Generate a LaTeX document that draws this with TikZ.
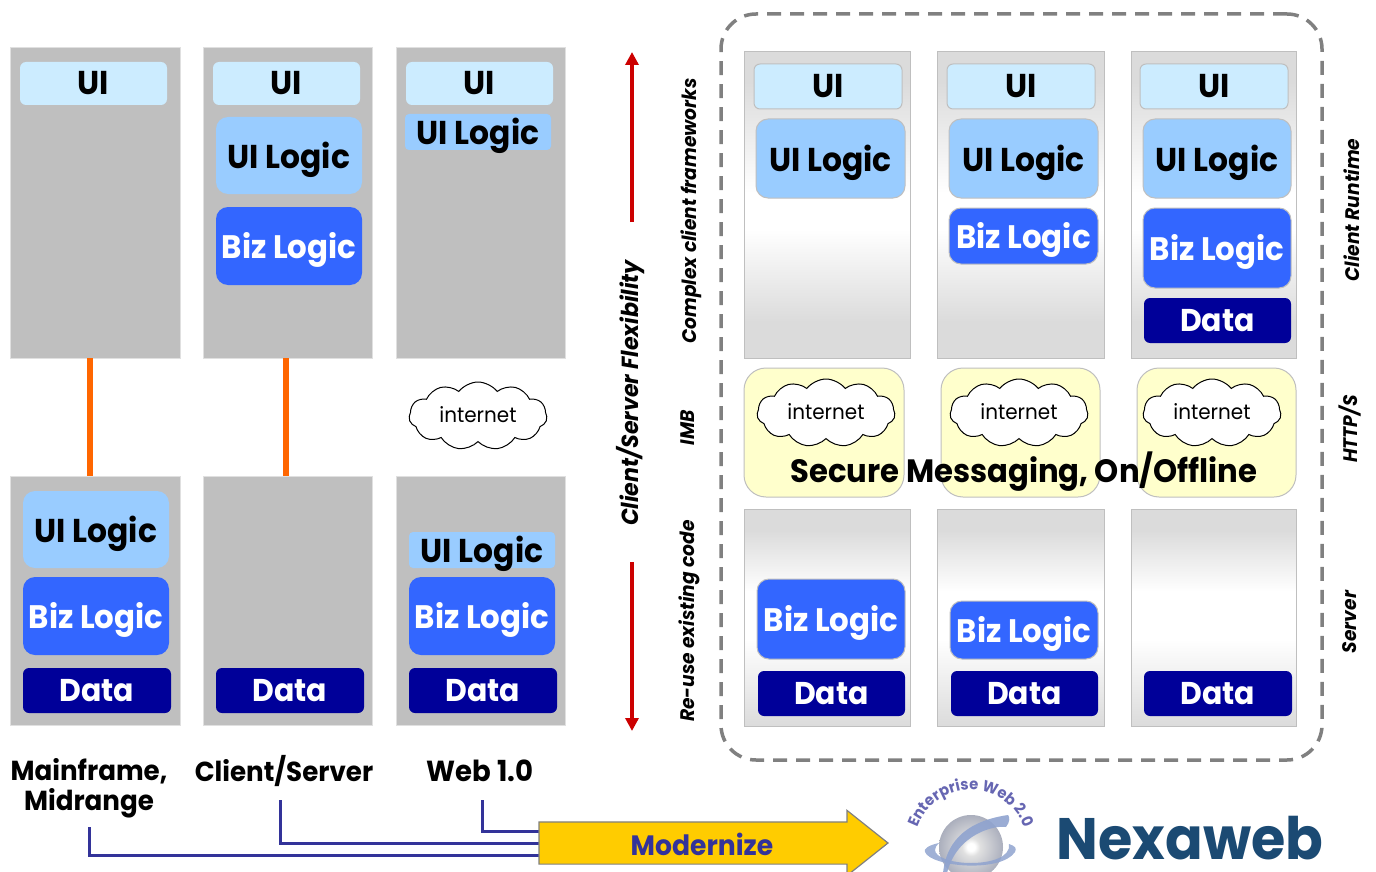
\documentclass[tikz,border=0pt]{standalone}
\usepackage{fontspec}
\setmainfont{Poppins}[FakeStretch=0.95]
\usetikzlibrary{shapes.symbols,shapes.arrows,decorations.text,arrows.meta}
\definecolor{cUI}{HTML}{CCECFF}
\definecolor{cLog}{HTML}{99CCFF}
\definecolor{cBiz}{HTML}{3366FF}
\definecolor{cData}{HTML}{000099}
\definecolor{cPan}{HTML}{BFBFBF}
\definecolor{cYel}{HTML}{FFFFCC}
\definecolor{cInd}{HTML}{333399}
\definecolor{cNex}{HTML}{1B4A73}
\definecolor{cRing}{HTML}{8FA3CF}
\definecolor{cGlobe}{HTML}{ABAFBD}
\pgfdeclareverticalshading{panTop}{100bp}{color(0bp)=(white!86!black); color(31bp)=(white!86!black); color(46bp)=(white); color(52bp)=(white); color(70bp)=(white!86!black); color(100bp)=(white!86!black)}
\pgfdeclareverticalshading{panBot}{100bp}{color(0bp)=(white!86!black); color(25bp)=(white!86!black); color(45bp)=(white); color(56bp)=(white); color(70bp)=(white!86!black); color(100bp)=(white!86!black)}
\pgfdeclareradialshading{globeSh}{\pgfpoint{0bp}{0bp}}{color(0bp)=(white); color(3bp)=(white); color(7bp)=(white!88!black); color(25bp)=(cGlobe); color(50bp)=(cGlobe)}
\tikzset{
 bx/.style={inner sep=0pt,outer sep=0pt,align=center,text depth=1pt},
 ptxt/.style={font=\fontsize{33}{33}\selectfont\bfseries},
 uibox/.style={bx,ptxt,fill=cUI,rounded corners=6pt,text=black},
 logbox/.style={bx,ptxt,fill=cLog,rounded corners=12pt,text=black},
 logsq/.style={bx,ptxt,fill=cLog,rounded corners=4pt,text=black},
 bizbox/.style={bx,font=\fontsize{32.5}{33}\selectfont\bfseries,fill=cBiz,rounded corners=12pt,text=white},
 databox/.style={bx,font=\fontsize{31.5}{33}\selectfont\bfseries,fill=cData,rounded corners=6pt,text=white},
 edged/.style={draw=cPan,line width=1pt},
 panel/.style={bx,fill=cPan,draw=white!88!black,line width=.6pt},
 pantop/.style={bx,shading=panTop,draw=cPan,line width=1pt},
 panbot/.style={bx,shading=panBot,draw=cPan,line width=1pt},
 yel/.style={bx,fill=cYel,draw=cPan,line width=1pt,rounded corners=22pt},
 inet/.style={cloud,cloud puffs=11,cloud puff arc=105,aspect=2.1,draw=black,fill=white,line width=1pt,inner sep=0pt,text depth=3pt,font=\fontsize{21}{21}\selectfont},
 orangel/.style={draw={rgb,255:red,255;green,102;blue,0},line width=6pt},
 redarr/.style={draw={rgb,255:red,204;green,0;blue,0},line width=3.5pt,-{Triangle[width=13pt,length=13pt]}},
 bluel/.style={draw=cInd,line width=3pt},
 side/.style={rotate=90,inner sep=0pt,font=\fontsize{19.6}{20}\selectfont\bfseries\itshape},
 era/.style={inner sep=0pt,font=\fontsize{27.5}{28}\selectfont\bfseries},
}
% \bxn[style]{name}{x0}{y0}{x1}{y1}{text}
\newcommand{\bxn}[7][]{\node[#1,minimum width={(#5-#3)*1pt},minimum height={(#6-#4)*1pt}] (#2) at ({(#3+#5)/2},{(#4+#6)/2}) {#7};}
\begin{document}
\begin{tikzpicture}[x=1pt,y=-1pt]
\useasboundingbox (0,0) rectangle (1376,872);
% left columns
\bxn[panel]{lt1}{10}{47}{180}{358}{}
\bxn[panel]{lt2}{203}{47}{372}{358}{}
\bxn[panel]{lt3}{396}{47}{565}{358}{}
\bxn[panel]{lb1}{10}{476}{180}{725}{}
\bxn[panel]{lb2}{203}{476}{372}{725}{}
\bxn[panel]{lb3}{396}{476}{565}{725}{}
\draw[orangel] ([xshift=-5pt]lt1.south) -- ([xshift=-5pt]lb1.north);
\draw[orangel] ([xshift=-1.5pt]lt2.south) -- ([xshift=-1.5pt]lb2.north);
\bxn[uibox]{a1}{20}{62}{167}{105}{UI}
\bxn[uibox]{a2}{213}{62}{360}{105}{UI}
\bxn[uibox]{a3}{406}{62}{553}{105}{UI}
\bxn[logbox]{b2}{216}{117}{362}{194}{UI Logic}
\bxn[bizbox]{c2}{216}{207}{362}{285}{Biz Logic}
\bxn[logsq]{b3}{405}{114}{551}{150}{UI Logic}
\node[inet,minimum width=138pt,minimum height=68pt] (cl0) at (478,416) {internet};
\bxn[logbox]{d1}{23}{491}{169}{568}{UI Logic}
\bxn[bizbox]{e1}{23}{577}{169}{655}{Biz Logic}
\bxn[databox]{f1}{23}{668}{171}{713}{Data}
\bxn[databox]{f2}{216}{668}{364}{713}{Data}
\bxn[logsq]{d3}{409}{532}{555}{568}{UI Logic}
\bxn[bizbox]{e3}{409}{577}{555}{655}{Biz Logic}
\bxn[databox]{f3}{409}{668}{557}{713}{Data}
% labels and feeders
\node[era] (m1) at (89,771) {Mainframe,};
\node[era] (m2) at (89,803) {Midrange};
\node[era] (m3) at (284,771) {Client/Server};
\node[era,font=\fontsize{29}{29}\selectfont\bfseries] (m4) at (480,771) {Web 1.0};
\coordinate (s1) at (89,827);\coordinate (s2) at (280,800);\coordinate (s3) at (482,800);
\coordinate (t1) at (540,855);\coordinate (t2) at (540,843);\coordinate (t3) at (540,831);
\draw[bluel] (s1) |- (t1);
\draw[bluel] (s2) |- (t2);
\draw[bluel] (s3) |- (t3);
\node[single arrow,anchor=tip,draw=gray,fill={rgb,255:red,255;green,204;blue,0},line width=1.2pt,inner xsep=0pt,inner ysep=20.5pt,minimum height=349pt,single arrow head extend=11.5pt,single arrow tip angle=77,single arrow head indent=0pt,outer sep=0pt] (mod) at (888,843) {};
\node[inner sep=0pt,text=cInd,font=\fontsize{28}{28}\selectfont\bfseries] (modt) at (702,844) {Modernize};
% flexibility
\node[side,font=\fontsize{23.3}{25}\selectfont\bfseries\itshape] (flex) at (631,393) {Client/Server Flexibility};
\coordinate (fa1) at (632,222);\coordinate (fa2) at (632,52);\coordinate (fa3) at (632,562);\coordinate (fa4) at (632,731);
\draw[redarr] (fa1) -- (fa2);
\draw[redarr] (fa3) -- (fa4);
\node[side] (s-a) at (691,211) {Complex client frameworks};
\node[side] (s-b) at (688,428) {IMB};
\node[side] (s-c) at (689,621) {Re-use existing code};
\node[side] (s-d) at (1352,210) {Client Runtime};
\node[side] (s-e) at (1350,429) {HTTP/S};
\node[side] (s-f) at (1350,622) {Server};
% dashed frame
\bxn[bx,draw=gray,line width=3.5pt,rounded corners=35pt,dash pattern=on 14pt off 9pt]{frame}{721}{14}{1322}{760}{}
% right columns
\bxn[pantop]{rt1}{744}{52}{910}{358}{}
\bxn[pantop]{rt2}{937}{52}{1104}{358}{}
\bxn[pantop]{rt3}{1131}{52}{1296}{358}{}
\bxn[panbot]{rb1}{744}{509}{910}{726}{}
\bxn[panbot]{rb2}{937}{509}{1104}{726}{}
\bxn[panbot]{rb3}{1131}{509}{1296}{726}{}
\bxn[uibox,edged]{g1}{754}{64}{902}{109}{UI}
\bxn[uibox,edged]{g2}{947}{64}{1095}{109}{UI}
\bxn[uibox,edged]{g3}{1140}{64}{1288}{109}{UI}
\bxn[logbox,edged]{h1}{756}{119}{905}{198}{UI Logic}
\bxn[logbox,edged]{h2}{949}{119}{1098}{198}{UI Logic}
\bxn[logbox,edged]{h3}{1143}{119}{1291}{198}{UI Logic}
\bxn[bizbox,edged]{i2}{949}{208}{1098}{264}{Biz Logic}
\bxn[bizbox,edged]{i3}{1143}{208}{1291}{288}{Biz Logic}
\bxn[databox]{j3}{1144}{298}{1291}{343}{Data}
\bxn[yel]{y1}{744}{368}{904}{497}{}
\bxn[yel]{y2}{941}{368}{1100}{497}{}
\bxn[yel]{y3}{1137}{368}{1296}{497}{}
\node[inet,minimum width=138pt,minimum height=68pt] (cl1) at (826,413) {internet};
\node[inet,minimum width=138pt,minimum height=68pt] (cl2) at (1019,413) {internet};
\node[inet,minimum width=138pt,minimum height=68pt] (cl3) at (1212,413) {internet};
\node[inner sep=0pt,font=\fontsize{32.3}{33}\selectfont\bfseries] (sec) at (1024,472) {Secure Messaging, On/Offline};
\bxn[bizbox,edged]{k1}{757}{579}{905}{659}{Biz Logic}
\bxn[bizbox,edged]{k2}{950}{601}{1098}{659}{Biz Logic}
\bxn[databox]{l1}{758}{671}{905}{716}{Data}
\bxn[databox]{l2}{951}{671}{1098}{716}{Data}
\bxn[databox]{l3}{1144}{671}{1292}{716}{Data}
% logo
\begin{scope}[shift={(971,847)},x=1pt,y=1pt]
 \shade[shading=globeSh] (0,0) circle (32pt);
 \fill[cRing,fill opacity=.85] (-32,4) .. controls (-42,2) and (-48,-2) .. (-46,-5) .. controls (-40,-20) and (30,-26) .. (44,-5) .. controls (46,-1) and (44,1) .. (38,3) .. controls (40,-10) and (20,-16) .. (0,-16) .. controls (-20,-16) and (-36,-10) .. (-36,-3) .. controls (-36,0) and (-34,2) .. (-32,4) -- cycle;
 \fill[cRing,fill opacity=.9] (-28,-26) .. controls (-26,-8) and (-18,24) .. (37,32) .. controls (39,30) and (39,25) .. (35,20) .. controls (25,22) and (-14,14) .. (-24,-26) -- cycle;
 \path[decorate,decoration={text along path,text align=center,text color=cInd!75!white,text={|\fontsize{15.5}{16}\selectfont\bfseries|Enterprise Web 2.0}}] (199:57) arc[start angle=199,end angle=-19,radius=57pt];
\end{scope}
\node[inner sep=0pt,text=cNex,font=\fontsize{58.5}{59}\selectfont\bfseries] (nex) at (1190,838) {Nexaweb};
\end{tikzpicture}
\end{document}
